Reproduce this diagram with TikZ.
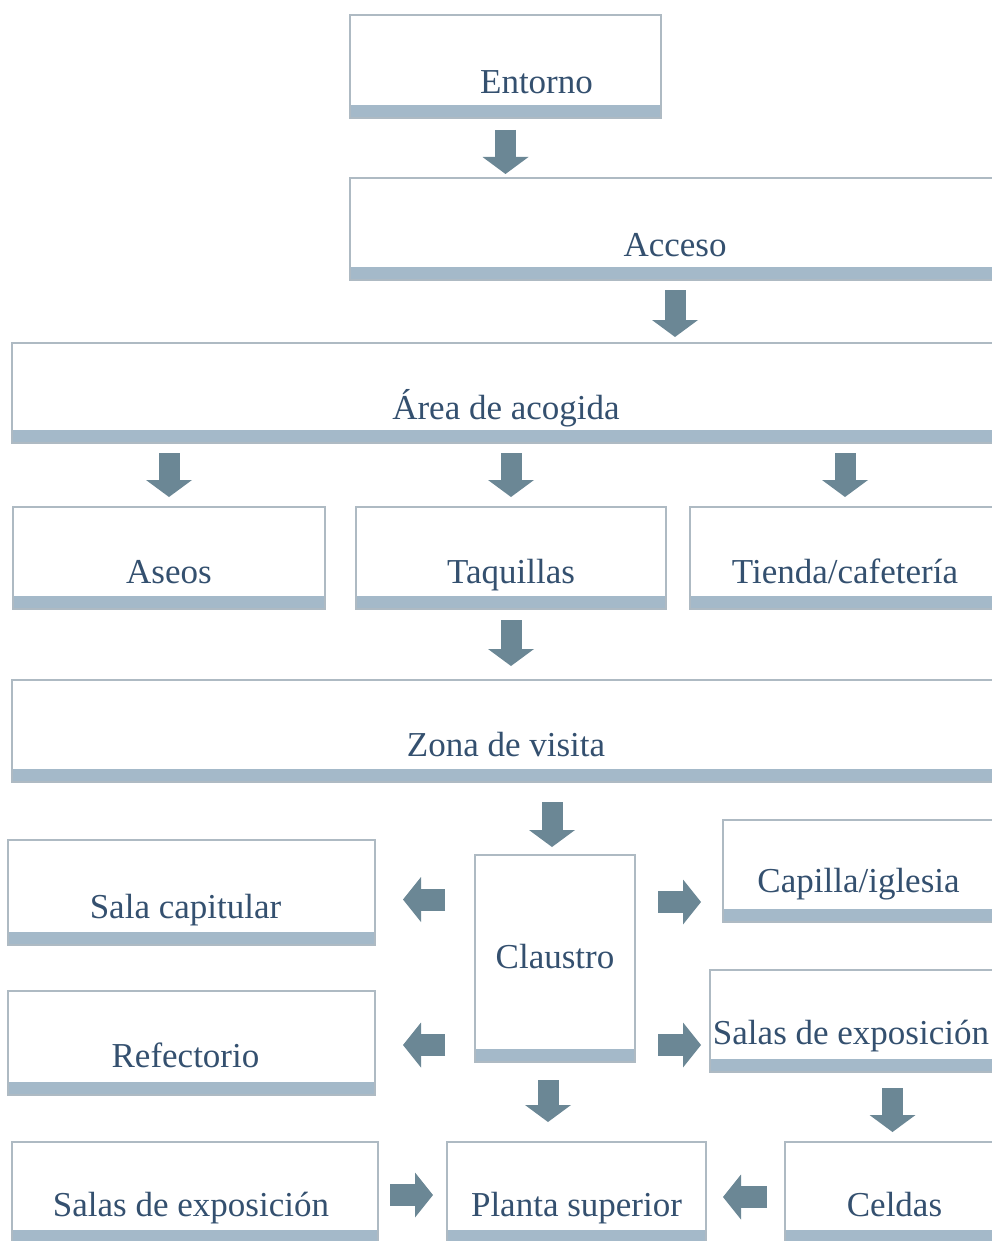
\documentclass[tikz,border=0pt]{standalone}
\usepackage{fontspec}
\setmainfont{Liberation Serif}
\usetikzlibrary{arrows.meta}
\definecolor{linec}{HTML}{AEBAC3}
\definecolor{barc}{HTML}{A4B9C9}
\definecolor{arrc}{HTML}{6B8795}
\definecolor{txtc}{HTML}{34506F}
\begin{document}
\begin{tikzpicture}[x=1pt,y=-1pt,
  box/.style={draw=linec, line width=2pt, fill=white, inner sep=0pt, outer sep=0pt,
    text=txtc, font=\fontsize{35}{40}\selectfont, text depth=0pt,
    path picture={\fill[barc] (path picture bounding box.south west) rectangle ([yshift=13pt]path picture bounding box.south east);}},
  dn/.style={draw=arrc, line width=21pt, -{Triangle[width=46pt,length=17pt,line width=0pt]}},
  hz/.style={draw=arrc, line width=22pt, -{Triangle[width=45pt,length=18pt,line width=0pt]}}]
\useasboundingbox (0,0) rectangle (992,1241);
\clip (0,0) rectangle (992,1241);

\node[box, minimum width=311pt, minimum height=103pt, text height=55pt] (entorno) at (505.5,66.5) {\hspace*{62pt}Entorno};
\node[box, minimum width=650pt, minimum height=102pt, text height=54pt] (acceso) at (675,229) {Acceso};
\node[box, minimum width=988pt, minimum height=100pt, text height=52pt] (area) at (506,393) {Área de acogida};
\node[box, minimum width=312pt, minimum height=102pt, text height=50pt] (aseos) at (169,558) {Aseos};
\node[box, minimum width=310pt, minimum height=102pt, text height=50pt] (taq) at (511,558) {Taquillas};
\node[box, minimum width=310pt, minimum height=102pt, text height=50pt] (tienda) at (845,558) {Tienda/cafetería};
\node[box, minimum width=988pt, minimum height=102pt, text height=50pt] (zona) at (506,731) {Zona de visita};
\node[box, minimum width=160pt, minimum height=207pt, text height=19pt] (claustro) at (555,958.5) {Claustro};
\node[box, minimum width=277pt, minimum height=102pt, text height=42pt] (capilla) at (861.5,871) {\hspace*{-6pt}Capilla/iglesia};
\node[box, minimum width=290pt, minimum height=102pt, text height=46pt] (salasr) at (855,1021) {\hspace*{-8pt}Salas de exposición};
\node[box, minimum width=367pt, minimum height=105pt, text height=52pt] (salacap) at (191.5,892.5) {\hspace*{-12pt}Sala capitular};
\node[box, minimum width=367pt, minimum height=104pt, text height=48pt] (refect) at (191.5,1043) {\hspace*{-12pt}Refectorio};
\node[box, minimum width=366pt, minimum height=101pt, text height=48pt] (salasl) at (195,1192.5) {\hspace*{-8pt}Salas de exposición};
\node[box, minimum width=259pt, minimum height=101pt, text height=48pt] (planta) at (576.5,1192.5) {Planta superior};
\node[box, minimum width=215pt, minimum height=101pt, text height=48pt] (celdas) at (892.5,1192.5) {\hspace*{4pt}Celdas};

% vertical arrows
\draw[dn] ([yshift=-12pt]entorno.south) -- ([yshift=4pt]entorno.south |- acceso.north);
\draw[dn] ([yshift=-10pt]acceso.south) -- ([yshift=6pt]acceso.south |- area.north);
\draw[dn] ([yshift=-10pt]area.south -| aseos.north) -- ([yshift=10pt]aseos.north);
\draw[dn] ([yshift=-10pt]area.south -| taq.north) -- ([yshift=10pt]taq.north);
\draw[dn] ([yshift=-10pt]area.south -| tienda.north) -- ([yshift=10pt]tienda.north);
\draw[dn] ([yshift=-11pt]taq.south) -- ([yshift=14pt]taq.south |- zona.north);
\draw[dn] ([xshift=-3pt,yshift=-20pt]zona.south -| claustro.north) -- ([xshift=-3pt,yshift=8pt]claustro.north);
\draw[dn] ([xshift=-7pt,yshift=-18pt]claustro.south) -- ([xshift=-7pt,yshift=20pt]claustro.south |- planta.north);
\draw[dn] ([yshift=-16pt]salasr.south -| celdas.north) -- ([yshift=10pt]celdas.north);

% horizontal arrows
\draw[hz] ([xshift=-30pt,yshift=-7pt]claustro.west |- salacap.east) -- ([xshift=28pt,yshift=-7pt]salacap.east);
\draw[hz] ([xshift=-30pt,yshift=-2pt]claustro.west |- refect.east) -- ([xshift=28pt,yshift=-2pt]refect.east);
\draw[hz] ([xshift=23pt,yshift=-31pt]claustro.east |- capilla.west) -- ([xshift=-22pt,yshift=-31pt]capilla.west);
\draw[hz] ([xshift=23pt,yshift=-24pt]claustro.east |- salasr.west) -- ([xshift=-9pt,yshift=-24pt]salasr.west);
\draw[hz] ([xshift=12pt,yshift=-2.5pt]salasl.east) -- ([xshift=-14pt,yshift=-2.5pt]planta.west);
\draw[hz] ([xshift=-18pt,yshift=-4.5pt]celdas.west) -- ([xshift=17pt,yshift=-4.5pt]planta.east);
\end{tikzpicture}
\end{document}
